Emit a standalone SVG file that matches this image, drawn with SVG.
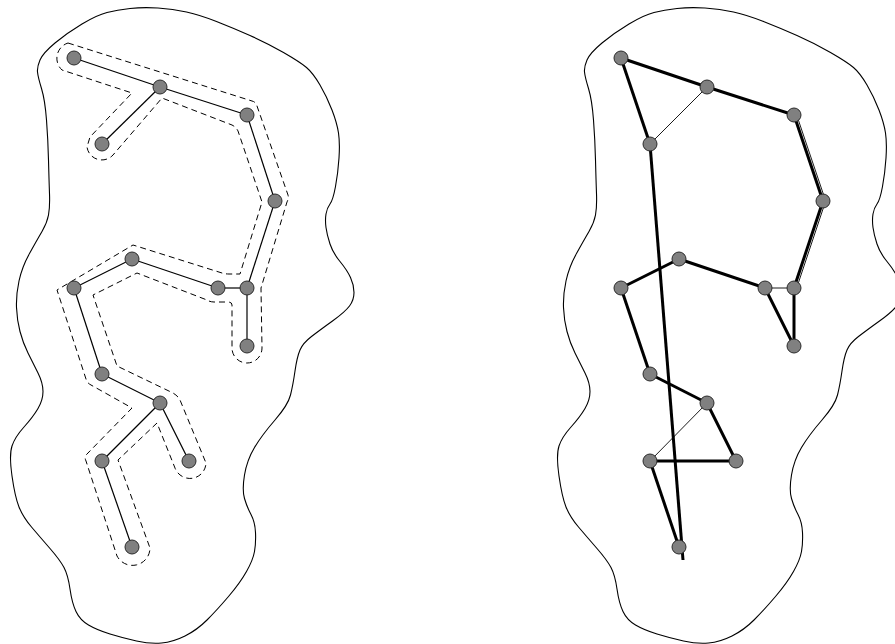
<svg xmlns="http://www.w3.org/2000/svg" xmlns:xlink="http://www.w3.org/1999/xlink" width="895" height="644" viewBox="0 0 895 644">
<style>
.blob{fill:none;stroke:#000;stroke-width:1.1}
.hull{fill:none;stroke:#000;stroke-width:1;stroke-dasharray:6 4}
.e{stroke:#000;stroke-width:1.2;fill:none}
.tk{stroke:#000;stroke-width:3;fill:none}
.tn{stroke:#000;stroke-width:0.9;fill:none}
.n{fill:#808080;stroke:#2a2a2a;stroke-width:1}
</style>
<defs>
<path id="blobShape" d="M37.5,72 Q37,67 40,60 Q43,53 55,43 Q67,33 82,24 Q97,15 107,12.5 Q117,10 130,8.5 Q143,7 158,8 Q173,9 186.5,12 Q200,15 216.5,21.5 Q233,28 250,35.5 Q267,43 283.5,52.5 Q300,62 306.5,67.5 Q313,73 320,85 Q327,97 332,110 Q337,123 338.5,133 Q340,143 339,158 Q338,173 335.5,186.5 Q333,200 330,204 Q327,208 326,214 Q325,220 326,227.5 Q327,235 330,244 Q333,253 340,261.5 Q347,270 350.5,277.5 Q354,285 354,292.5 Q354,300 349.5,306 Q345,312 332.5,321 Q320,330 311.5,336.5 Q303,343 300,350 Q297,357 295,371 Q293,385 290.5,395 Q288,405 275,420 Q262,435 254.5,447.5 Q247,460 244.5,475 Q242,490 244.5,498.5 Q247,507 251,514.5 Q255,522 255.5,532.5 Q256,543 254.5,551.5 Q253,560 246.5,571.5 Q240,583 228.5,596.5 Q217,610 207,620 Q197,630 185,636 Q173,642 161.5,643 Q150,644 136.5,641 Q123,638 110,634 Q97,630 88.5,625 Q80,620 76,611.5 Q72,603 70,589 Q68,575 64,567.5 Q60,560 50,548.5 Q40,537 31.5,527 Q23,517 19,507 Q15,497 12,476 Q9,455 12,446 Q15,437 24,427 Q33,417 38,408.5 Q43,400 43,391.5 Q43,383 38,373 Q33,363 28,353 Q23,343 20,331.5 Q17,320 16.5,307.5 Q16,295 19,281 Q22,267 29.5,253.5 Q37,240 42,231.5 Q47,223 48.5,215 Q50,207 49.5,193.5 Q49,180 48.5,160 Q48,140 46.5,120 Q45,100 41.5,88.5 Q38,77 37.5,72 Z"/>
</defs>
<g id="blobs">
<use xlink:href="#blobShape" href="#blobShape" class="blob"/>
<use xlink:href="#blobShape" href="#blobShape" class="blob" transform="translate(547,0)"/>
</g>
<g id="hull">
<path class="hull" d="M68,43 L252,101 Q256,102 257,106 L288,195 Q289,198 287,202 L261,288 L262,348 A15,15 0 0 1 232,348 L232,305 Q232,302 228,302 L214,302 Q210,302 207,300 L137,273 L93,295 L117,366 L173,393 Q178,396 180,400 L206,463 A16,16 0 0 1 175,468 L157,423 L118,460 L150,548 A17.5,17.5 0 0 1 117,556 L86,461 Q84,457 87,454 L132,408 L91,385 Q87,383 86,379 L57,290 L133,245 L222,273 Q225,274 229,274 L240,274 L262,202 L238,131 Q236,127 232,125 L162,98 L113,155 A15,15 0 0 1 87,147 L90,137 L132,93 L62,70 A16,16 0 0 1 68,43 Z"/>
</g>
<g id="connectors">
<g id="left-edges">
<line class="e" x1="74" y1="58" x2="160" y2="87"/>
<line class="e" x1="160" y1="87" x2="102" y2="144"/>
<line class="e" x1="160" y1="87" x2="247" y2="115"/>
<line class="e" x1="247" y1="115" x2="275" y2="201"/>
<line class="e" x1="275" y1="201" x2="247" y2="288"/>
<line class="e" x1="247" y1="288" x2="218" y2="288"/>
<line class="e" x1="218" y1="288" x2="132" y2="259"/>
<line class="e" x1="132" y1="259" x2="74" y2="288"/>
<line class="e" x1="74" y1="288" x2="102" y2="374"/>
<line class="e" x1="247" y1="288" x2="247" y2="346"/>
<line class="e" x1="102" y1="374" x2="160" y2="403"/>
<line class="e" x1="160" y1="403" x2="102" y2="461"/>
<line class="e" x1="160" y1="403" x2="189" y2="461"/>
<line class="e" x1="102" y1="461" x2="132" y2="547"/>
</g>
<g id="right-edges">
<line class="tk" x1="621" y1="58" x2="707" y2="87"/>
<line class="tk" x1="707" y1="87" x2="794" y2="115"/>
<line class="tk" x1="794" y1="115" x2="823" y2="201"/>
<line class="tn" x1="796.4" y1="114.2" x2="825.4" y2="200.2"/>
<line class="tk" x1="823" y1="201" x2="794" y2="288"/>
<line class="tn" x1="825.4" y1="201.8" x2="796.4" y2="288.8"/>
<line class="tk" x1="621" y1="58" x2="650" y2="144"/>
<line class="tk" x1="650" y1="144" x2="683" y2="560"/>
<line class="tk" x1="621" y1="288" x2="679" y2="259"/>
<line class="tk" x1="679" y1="259" x2="765" y2="288"/>
<line class="tk" x1="621" y1="288" x2="650" y2="374"/>
<line class="tk" x1="650" y1="374" x2="707" y2="403"/>
<line class="tk" x1="707" y1="403" x2="736" y2="461"/>
<line class="tk" x1="736" y1="461" x2="650" y2="461"/>
<line class="tk" x1="650" y1="461" x2="679" y2="547"/>
<line class="tk" x1="765" y1="288" x2="794" y2="346"/>
<line class="tk" x1="794" y1="288" x2="794" y2="346"/>
<line class="tn" x1="707" y1="87" x2="650" y2="144"/>
<line class="tn" x1="765" y1="288" x2="794" y2="288"/>
<line class="tn" x1="707" y1="403" x2="650" y2="461"/>
</g>
</g>
<g id="left-nodes">
<g id="nA"><circle class="n" cx="74" cy="58" r="7"/></g>
<g id="nB"><circle class="n" cx="160" cy="87" r="7"/></g>
<g id="nC"><circle class="n" cx="102" cy="144" r="7"/></g>
<g id="nD"><circle class="n" cx="247" cy="115" r="7"/></g>
<g id="nE"><circle class="n" cx="275" cy="201" r="7"/></g>
<g id="nF"><circle class="n" cx="132" cy="259" r="7"/></g>
<g id="nG"><circle class="n" cx="74" cy="288" r="7"/></g>
<g id="nH"><circle class="n" cx="218" cy="288" r="7"/></g>
<g id="nI"><circle class="n" cx="247" cy="288" r="7"/></g>
<g id="nJ"><circle class="n" cx="247" cy="346" r="7"/></g>
<g id="nK"><circle class="n" cx="102" cy="374" r="7"/></g>
<g id="nL"><circle class="n" cx="160" cy="403" r="7"/></g>
<g id="nM"><circle class="n" cx="102" cy="461" r="7"/></g>
<g id="nN"><circle class="n" cx="189" cy="461" r="7"/></g>
<g id="nO"><circle class="n" cx="132" cy="547" r="7"/></g>
</g>
<g id="right-nodes">
<g id="rA"><circle class="n" cx="621" cy="58" r="7"/></g>
<g id="rB"><circle class="n" cx="707" cy="87" r="7"/></g>
<g id="rC"><circle class="n" cx="650" cy="144" r="7"/></g>
<g id="rD"><circle class="n" cx="794" cy="115" r="7"/></g>
<g id="rE"><circle class="n" cx="823" cy="201" r="7"/></g>
<g id="rF"><circle class="n" cx="679" cy="259" r="7"/></g>
<g id="rG"><circle class="n" cx="621" cy="288" r="7"/></g>
<g id="rH"><circle class="n" cx="765" cy="288" r="7"/></g>
<g id="rI"><circle class="n" cx="794" cy="288" r="7"/></g>
<g id="rJ"><circle class="n" cx="794" cy="346" r="7"/></g>
<g id="rK"><circle class="n" cx="650" cy="374" r="7"/></g>
<g id="rL"><circle class="n" cx="707" cy="403" r="7"/></g>
<g id="rM"><circle class="n" cx="650" cy="461" r="7"/></g>
<g id="rN"><circle class="n" cx="736" cy="461" r="7"/></g>
<g id="rO"><circle class="n" cx="679" cy="547" r="7"/></g>
</g>
</svg>
